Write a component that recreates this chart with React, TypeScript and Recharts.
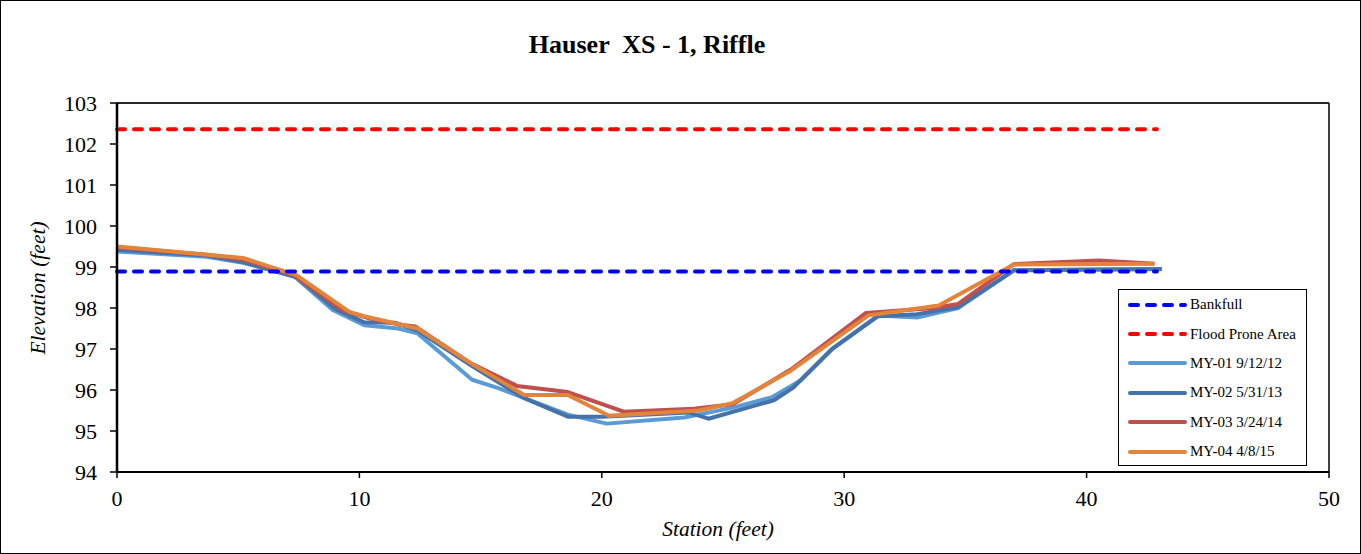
import { LineChart, Line, XAxis, YAxis, CartesianGrid, ReferenceLine } from "recharts";

const title = "Hauser  XS - 1, Riffle";
const xAxisTitle = "Station (feet)";
const yAxisTitle = "Elevation (feet)";
const xTicks = [0, 10, 20, 30, 40, 50];
const xMinorTicks = [5, 15, 25, 35, 45];
const yTicks = [94, 95, 96, 97, 98, 99, 100, 101, 102, 103];
const yMinorTicks = [94.5, 95.5, 96.5, 97.5, 98.5, 99.5, 100.5, 101.5, 102.5];

const bankfullStation = [0, 42.9];
const bankfullElev = [98.89, 98.89];
const floodStation = [0, 42.9];
const floodElev = [102.36, 102.36];

const my01Station = [0, 3.7, 5.2, 7.3, 8.9, 10.2, 11.6, 12.4, 14.65, 15.7, 18.6, 20.2, 23.4, 25.4, 27.0, 28.2, 29.5, 31.4, 33.0, 34.7, 37.0, 43.1];
const my01Elev = [99.38, 99.25, 99.1, 98.78, 97.95, 97.58, 97.5, 97.38, 96.25, 96.05, 95.4, 95.18, 95.33, 95.57, 95.82, 96.23, 97.0, 97.82, 97.77, 98.0, 98.92, 98.95];

const my02Station = [0, 3.7, 5.2, 7.4, 9.0, 10.2, 11.5, 12.4, 14.6, 16.8, 18.6, 20.0, 23.6, 24.4, 27.1, 27.9, 29.5, 31.4, 33.0, 34.7, 37.0, 43.1];
const my02Elev = [99.42, 99.28, 99.12, 98.75, 97.98, 97.65, 97.64, 97.45, 96.6, 95.8, 95.35, 95.35, 95.45, 95.3, 95.75, 96.06, 97.0, 97.8, 97.85, 98.02, 98.92, 98.95];

const my03Station = [0, 3.7, 5.2, 7.3, 9.3, 10.4, 11.6, 12.3, 14.6, 16.5, 18.6, 20.9, 23.8, 25.4, 27.8, 30.9, 33.7, 34.7, 37.0, 40.5, 42.8];
const my03Elev = [99.48, 99.3, 99.18, 98.8, 97.95, 97.75, 97.6, 97.55, 96.65, 96.1, 95.95, 95.47, 95.54, 95.65, 96.5, 97.88, 98.0, 98.1, 99.07, 99.16, 99.08];

const my04Station = [0, 5.2, 7.4, 9.6, 10.2, 12.4, 14.6, 16.8, 18.6, 20.3, 24.0, 25.4, 27.8, 31.0, 33.9, 37.0, 42.8];
const my04Elev = [99.5, 99.22, 98.8, 97.9, 97.8, 97.5, 96.65, 95.88, 95.88, 95.37, 95.5, 95.68, 96.47, 97.82, 98.06, 99.06, 99.08];

const toPoints = (xs: number[], ys: number[]) => xs.map((x, i) => ({ x, y: ys[i] }));

const series = [
  { name: "MY-01 9/12/12", color: "#5B9BD5", data: toPoints(my01Station, my01Elev) },
  { name: "MY-02 5/31/13", color: "#4573A9", data: toPoints(my02Station, my02Elev) },
  { name: "MY-03 3/24/14", color: "#C0504D", data: toPoints(my03Station, my03Elev) },
  { name: "MY-04 4/8/15", color: "#E2843A", data: toPoints(my04Station, my04Elev) },
];

const refLines = [
  { name: "Bankfull", color: "#0000FF", data: toPoints(bankfullStation, bankfullElev) },
  { name: "Flood Prone Area", color: "#FF0000", data: toPoints(floodStation, floodElev) },
];

const FONT = "'Liberation Serif', 'Times New Roman', serif";
const tickStyle = { fontSize: 22, fill: "#000", fontFamily: FONT };
const DASH = "8 9";

const LegendBox = () => {
  const items = [
    ...refLines.map((r) => ({ ...r, dashed: true })),
    ...series.map((s) => ({ ...s, dashed: false })),
  ];
  return (
    <div
      style={{
        position: "absolute",
        left: 1117,
        top: 288,
        width: 189,
        height: 177,
        boxSizing: "border-box",
        border: "1px solid #000",
        background: "#fff",
        fontFamily: FONT,
        fontSize: 15,
      }}
    >
      {items.map((it) => (
        <div key={it.name} style={{ display: "flex", alignItems: "center", height: 29.4 }}>
          <svg width={70} height={10} style={{ flexShrink: 0 }}>
            <line
              x1={11}
              y1={5}
              x2={66}
              y2={5}
              stroke={it.color}
              strokeWidth={4}
              strokeLinecap="round"
              strokeDasharray={it.dashed ? DASH : undefined}
            />
          </svg>
          <span style={{ marginLeft: 1, whiteSpace: "nowrap" }}>{it.name}</span>
        </div>
      ))}
    </div>
  );
};

const App = () => {
  return (
    <div
      style={{
        position: "absolute",
        left: 0,
        top: 0,
        width: 1361,
        height: 554,
        boxSizing: "border-box",
        border: "1px solid #000",
        background: "#fff",
      }}
    >
      <div
        style={{
          position: "absolute",
          left: 0,
          top: 29,
          width: 1292,
          textAlign: "center",
          fontFamily: FONT,
          fontWeight: "bold",
          fontSize: 26,
          whiteSpace: "pre",
        }}
      >
        {title}
      </div>
      <LineChart
        width={1359}
        height={552}
        margin={{ top: 102, right: 31, left: 56, bottom: 51 }}
        style={{ position: "absolute", left: 0, top: 0 }}
      >
        <CartesianGrid vertical={false} stroke="#3a3a3a" strokeWidth={1} />
        <XAxis
          xAxisId="main"
          type="number"
          dataKey="x"
          domain={[0, 50]}
          ticks={xTicks}
          height={30}
          tick={tickStyle}
          tickSize={6}
          tickMargin={12}
          axisLine={{ stroke: "#000", strokeWidth: 2 }}
          tickLine={{ stroke: "#000", strokeWidth: 1.5 }}
        />
        <XAxis
          xAxisId="minor"
          type="number"
          dataKey="x"
          domain={[0, 50]}
          ticks={xMinorTicks}
          height={0}
          mirror
          tickFormatter={() => ""}
          tickSize={5}
          axisLine={false}
          tickLine={{ stroke: "#000", strokeWidth: 1.5 }}
        />
        <YAxis
          yAxisId="main"
          type="number"
          domain={[94, 103]}
          ticks={yTicks}
          width={60}
          tick={tickStyle}
          tickSize={7}
          tickMargin={13}
          axisLine={{ stroke: "#000", strokeWidth: 2.5 }}
          tickLine={{ stroke: "#000", strokeWidth: 1.5 }}
        />
        <YAxis
          yAxisId="minor"
          type="number"
          domain={[94, 103]}
          ticks={yMinorTicks}
          width={0}
          mirror
          tickFormatter={() => ""}
          tickSize={4}
          axisLine={false}
          tickLine={{ stroke: "#000", strokeWidth: 1.5 }}
        />
        <ReferenceLine xAxisId="main" yAxisId="main" x={50} stroke="#000" strokeWidth={1.5} />
        <ReferenceLine xAxisId="main" yAxisId="main" y={103} stroke="#000" strokeWidth={1.5} />
        {series.map((s) => (
          <Line
            key={s.name}
            xAxisId="main"
            yAxisId="main"
            data={s.data}
            dataKey="y"
            name={s.name}
            type="linear"
            stroke={s.color}
            strokeWidth={4}
            dot={false}
            activeDot={false}
            strokeLinejoin="round"
            isAnimationActive={false}
          />
        ))}
        {refLines.map((r) => (
          <Line
            key={r.name}
            xAxisId="main"
            yAxisId="main"
            data={r.data}
            dataKey="y"
            name={r.name}
            type="linear"
            stroke={r.color}
            strokeWidth={4}
            strokeDasharray={DASH}
            strokeLinecap="round"
            dot={false}
            activeDot={false}
            isAnimationActive={false}
          />
        ))}
      </LineChart>
      <div
        style={{
          position: "absolute",
          left: 617,
          top: 516,
          width: 200,
          textAlign: "center",
          fontFamily: FONT,
          fontStyle: "italic",
          fontSize: 21.5,
          lineHeight: "24px",
          whiteSpace: "nowrap",
        }}
      >
        {xAxisTitle}
      </div>
      <div
        style={{
          position: "absolute",
          left: -63,
          top: 275,
          width: 200,
          height: 24,
          textAlign: "center",
          fontFamily: FONT,
          fontStyle: "italic",
          fontSize: 21.5,
          lineHeight: "24px",
          whiteSpace: "nowrap",
          transform: "rotate(-90deg)",
        }}
      >
        {yAxisTitle}
      </div>
      <LegendBox />
    </div>
  );
};

export default App;
